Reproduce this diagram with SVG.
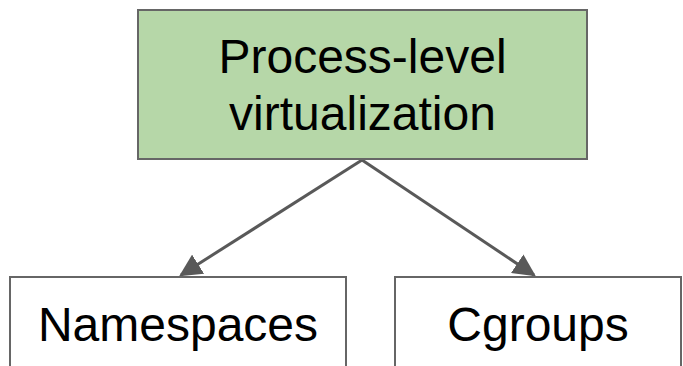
<svg xmlns="http://www.w3.org/2000/svg" width="683" height="366" viewBox="0 0 683 366">
<style>
.box{stroke:#666;stroke-width:2}
.t{font-family:"Liberation Sans",Arial,sans-serif;font-size:48px;fill:#000;text-anchor:middle}
.c{stroke:#595959;stroke-width:3;fill:none}
</style>
<defs>
<marker id="ah" viewBox="0 0 10 10" refX="9" refY="5" markerWidth="7.5" markerHeight="7.5" orient="auto" markerUnits="strokeWidth">
<path d="M0,0 L10,5 L0,10 z" fill="#595959"/>
</marker>
</defs>
<rect width="683" height="366" fill="#fff"/>
<g id="connectors">
<line class="c" x1="362" y1="160" x2="181" y2="275" marker-end="url(#ah)"/>
<line class="c" x1="362" y1="160" x2="534" y2="275" marker-end="url(#ah)"/>
</g>
<g id="process">
<rect class="box" x="138" y="10" width="449" height="149" fill="#b6d7a8"/>
<text class="t" x="362.5" y="73">Process-level</text>
<text class="t" x="362.5" y="130">virtualization</text>
</g>
<g id="namespaces">
<rect class="box" x="10" y="277" width="336" height="110" fill="#fff"/>
<text class="t" x="178" y="341">Namespaces</text>
</g>
<g id="cgroups">
<rect class="box" x="395" y="277" width="286" height="110" fill="#fff"/>
<text class="t" x="538" y="341">Cgroups</text>
</g>
</svg>
